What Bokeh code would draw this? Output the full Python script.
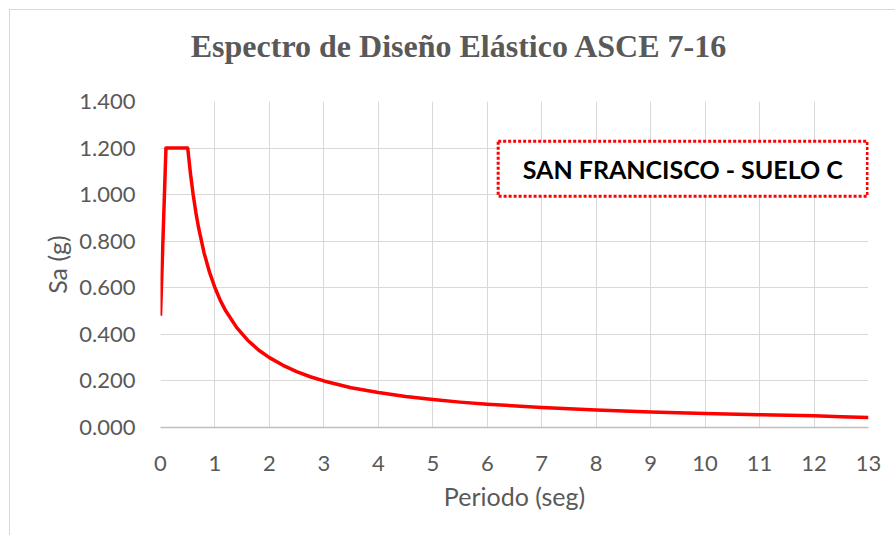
from bokeh.plotting import figure
from bokeh.layouts import column
from bokeh.models import Range1d, FixedTicker, NumeralTickFormatter, BoxAnnotation, Label
from bokeh.embed import file_html
from bokeh.resources import INLINE

title_text = "Espectro de Diseño Elástico ASCE 7-16"
legend_text = "SAN FRANCISCO - SUELO C"
x_label = "Periodo (seg)"
y_label = "Sa (g)"

periodo = [0.0, 0.1, 0.5, 0.55, 0.6, 0.65, 0.7, 0.8, 0.9, 1.0, 1.1, 1.2, 1.4, 1.6, 1.8,
           2.0, 2.25, 2.5, 2.75, 3.0, 3.5, 4.0, 4.5, 5.0, 5.5, 6.0, 7.0, 8.0, 9.0, 10.0,
           11.0, 12.0, 12.5, 13.0]
sa = [0.48, 1.2, 1.2, 1.091, 1.0, 0.923, 0.857, 0.75, 0.667, 0.6, 0.545, 0.5, 0.429, 0.375, 0.333,
      0.3, 0.267, 0.24, 0.218, 0.2, 0.171, 0.15, 0.133, 0.12, 0.109, 0.1, 0.086, 0.075, 0.067, 0.06,
      0.055, 0.05, 0.046, 0.043]

x_ticks = list(range(0, 14))
y_ticks = [0.0, 0.2, 0.4, 0.6, 0.8, 1.0, 1.2, 1.4]

GRAY_TXT = "#595959"
GRID = "#d9d9d9"

# --- title strip (its own small svg figure) ---
tf = figure(width=886, height=72, output_backend="svg", toolbar_location=None,
            x_range=Range1d(0, 886), y_range=Range1d(0, 72),
            x_axis_location=None, y_axis_location=None, min_border=0,
            min_border_left=0, min_border_right=0, min_border_top=0, min_border_bottom=0)
tf.outline_line_color = None
tf.grid.visible = False
tf.add_layout(Label(x=374, y=37, text=title_text, text_font="Liberation Serif",
                    text_font_size="32px", text_font_style="bold", text_color=GRAY_TXT,
                    text_align="center", text_baseline="middle"))

# --- main chart ---
p = figure(width=886, height=454, output_backend="svg", toolbar_location=None,
           x_range=Range1d(0, 13), y_range=Range1d(0, 1.4),
           min_border_left=150, min_border_right=28, min_border_top=19, min_border_bottom=109)

p.outline_line_color = None
p.background_fill_color = "white"
p.border_fill_color = "white"

p.xaxis.ticker = FixedTicker(ticks=x_ticks)
p.yaxis.ticker = FixedTicker(ticks=y_ticks)
p.yaxis.formatter = NumeralTickFormatter(format="0.000")

for ax in (p.xaxis[0], p.yaxis[0]):
    ax.major_tick_line_color = None
    ax.minor_tick_line_color = None
    ax.major_label_text_font = "Lato"
    ax.major_label_text_font_size = "22px"
    ax.major_label_text_color = GRAY_TXT
    ax.axis_label_text_font = "Lato"
    ax.axis_label_text_font_size = "25px"
    ax.axis_label_text_font_style = "normal"
    ax.axis_label_text_color = GRAY_TXT

p.xaxis.axis_label = x_label
p.yaxis.axis_label = y_label
p.xaxis.axis_line_color = "#bfbfbf"
p.xaxis.axis_line_width = 1.5
p.yaxis.axis_line_color = None
p.xaxis.major_label_standoff = 22
p.yaxis.major_label_standoff = 19
p.xaxis.axis_label_standoff = 7
p.yaxis.axis_label_standoff = 4

p.xgrid.ticker = FixedTicker(ticks=x_ticks)
p.ygrid.ticker = FixedTicker(ticks=y_ticks)
p.grid.grid_line_color = GRID
p.grid.grid_line_width = 1

p.line(periodo, sa, line_color="#ff0000", line_width=3.5, line_join="round")

box = BoxAnnotation(left=6.2, right=12.98, bottom=0.993, top=1.229,
                    fill_color="white", fill_alpha=1.0,
                    line_color="#ff0000", line_alpha=1.0, line_width=3, line_dash="3 2")
p.add_layout(box)
p.add_layout(Label(x=9.59, y=1.111, text=legend_text, text_font="Lato",
                   text_font_size="25px", text_font_style="bold", text_color="black",
                   text_align="center", text_baseline="middle"))

layout = column(tf, p, margin=(9, 0, 0, 9), spacing=0,
                styles={"border-left": "1.5px solid #d9d9d9", "border-top": "1.5px solid #d9d9d9",
                        "box-sizing": "border-box"})

open("out.html", "w").write(file_html(layout, INLINE))
